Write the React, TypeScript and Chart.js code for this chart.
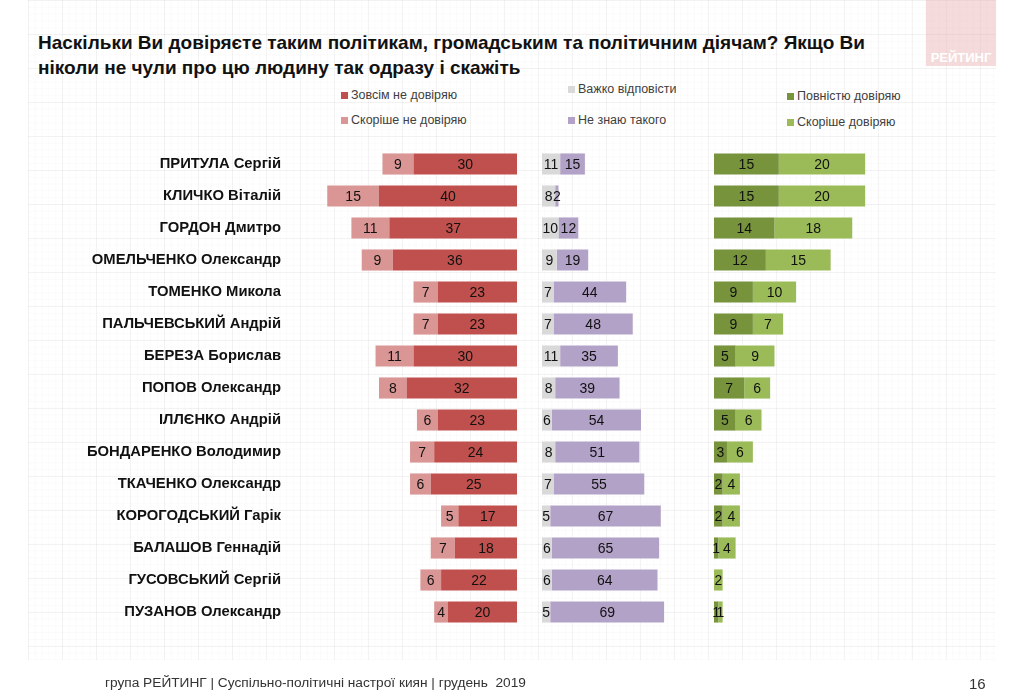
import React, { useEffect, useRef } from "react";
import { Chart, registerables } from "chart.js";

Chart.register(...registerables);

const categories = [
  "ПРИТУЛА Сергій",
  "КЛИЧКО Віталій",
  "ГОРДОН Дмитро",
  "ОМЕЛЬЧЕНКО Олександр",
  "ТОМЕНКО Микола",
  "ПАЛЬЧЕВСЬКИЙ Андрій",
  "БЕРЕЗА Борислав",
  "ПОПОВ Олександр",
  "ІЛЛЄНКО Андрій",
  "БОНДАРЕНКО Володимир",
  "ТКАЧЕНКО Олександр",
  "КОРОГОДСЬКИЙ Гарік",
  "БАЛАШОВ Геннадій",
  "ГУСОВСЬКИЙ Сергій",
  "ПУЗАНОВ Олександр",
];

const fullyDistrust = [30, 40, 37, 36, 23, 23, 30, 32, 23, 24, 25, 17, 18, 22, 20];
const ratherDistrust = [9, 15, 11, 9, 7, 7, 11, 8, 6, 7, 6, 5, 7, 6, 4];
const hardToSay = [11, 8, 10, 9, 7, 7, 11, 8, 6, 8, 7, 5, 6, 6, 5];
const dontKnow = [15, 2, 12, 19, 44, 48, 35, 39, 54, 51, 55, 67, 65, 64, 69];
const fullyTrust = [15, 15, 14, 12, 9, 9, 5, 7, 5, 3, 2, 2, 1, 0, 1];
const ratherTrust = [20, 20, 18, 15, 10, 7, 9, 6, 6, 6, 4, 4, 4, 2, 1];

const legendLabels = [
  "Зовсім не довіряю",
  "Скоріше не довіряю",
  "Важко відповісти",
  "Не знаю такого",
  "Повністю довіряю",
  "Скоріше довіряю",
];

const colors = ["#C0504D", "#D99694", "#D9D9D9", "#B3A2C7", "#77933C", "#9BBB59"];

const FONT = '"Liberation Sans", Arial, sans-serif';

const valueLabels = {
  id: "valueLabels",
  afterDatasetsDraw(chart: any) {
    const ctx = chart.ctx;
    ctx.save();
    ctx.font = `14px ${FONT}`;
    ctx.fillStyle = "#111111";
    ctx.textAlign = "center";
    ctx.textBaseline = "middle";
    chart.data.datasets.forEach((ds: any, i: number) => {
      const meta = chart.getDatasetMeta(i);
      meta.data.forEach((el: any, j: number) => {
        const v = ds.data[j] as number;
        if (!v) return;
        const p = el.getProps(["x", "base", "y"], true);
        ctx.fillText(String(v), (p.x + p.base) / 2, p.y + 1);
      });
    });
    ctx.restore();
  },
};

export default function App() {
  const canvasRef = useRef<HTMLCanvasElement | null>(null);

  useEffect(() => {
    const canvas = canvasRef.current;
    if (!canvas) return;
    Chart.defaults.font.family = FONT;
    const series = [fullyDistrust, ratherDistrust, hardToSay, dontKnow, fullyTrust, ratherTrust];
    const axisIds = ["xR", "xR", "xM", "xM", "xG", "xG"];
    const stacks = ["r", "r", "m", "m", "g", "g"];
    const chart = new Chart(canvas, {
      type: "bar",
      data: {
        labels: categories,
        datasets: series.map((d, i) => ({
          label: legendLabels[i],
          data: d,
          backgroundColor: colors[i],
          borderWidth: 0,
          xAxisID: axisIds[i],
          stack: stacks[i],
          grouped: false,
          categoryPercentage: 1,
          barPercentage: 0.66,
        })) as any,
      },
      options: {
        indexAxis: "y",
        responsive: false,
        animation: false,
        layout: { padding: { left: 0, right: 24, top: 148, bottom: 68 } },
        plugins: {
          legend: { display: false },
          tooltip: { enabled: false },
          title: { display: false },
        },
        scales: {
          y: {
            type: "category",
            position: "left",
            grid: { display: false, drawTicks: false },
            border: { display: false },
            ticks: {
              font: { size: 14.8, weight: "bold", family: FONT },
              color: "#111111",
              padding: 9,
            },
            afterFit: (s: any) => {
              s.width = 290;
            },
          },
          xR: {
            type: "linear",
            position: "bottom",
            stack: "panels",
            stackWeight: 240,
            reverse: true,
            stacked: true,
            min: -3.77,
            max: 65.8,
            display: false,
          },
          xM: {
            type: "linear",
            position: "bottom",
            stack: "panels",
            stackWeight: 170,
            stacked: true,
            min: -7.27,
            max: 95.76,
            display: false,
          },
          xG: {
            type: "linear",
            position: "bottom",
            stack: "panels",
            stackWeight: 300,
            stacked: true,
            min: -3.24,
            max: 66.2,
            display: false,
          },
        } as any,
      },
      plugins: [valueLabels],
    });
    return () => chart.destroy();
  }, []);

  const legendPos = [
    { x: 341, y: 95 },
    { x: 341, y: 120 },
    { x: 568, y: 89 },
    { x: 568, y: 120 },
    { x: 787, y: 96 },
    { x: 787, y: 122 },
  ];

  const gridBg =
    "linear-gradient(to right, rgba(0,0,0,0.035) 1px, transparent 1px)," +
    "linear-gradient(to bottom, rgba(0,0,0,0.035) 1px, transparent 1px)," +
    "linear-gradient(to right, rgba(0,0,0,0.014) 1px, transparent 1px)," +
    "linear-gradient(to bottom, rgba(0,0,0,0.014) 1px, transparent 1px)";

  return (
    <div
      style={{
        position: "absolute",
        left: 0,
        top: 0,
        width: 1024,
        height: 696,
        background: "#ffffff",
        fontFamily: FONT,
        overflow: "hidden",
      }}
    >
      <div
        style={{
          position: "absolute",
          left: 28,
          top: 0,
          width: 968,
          height: 660,
          backgroundImage: gridBg,
          backgroundSize: "34px 34px, 34px 34px, 6.8px 6.8px, 6.8px 6.8px",
        }}
      />
      <div
        style={{
          position: "absolute",
          left: 926,
          top: 0,
          width: 70,
          height: 66,
          background: "rgba(230,170,170,0.42)",
          color: "#ffffff",
          fontWeight: "bold",
          fontSize: 13,
          textAlign: "center",
          lineHeight: "16px",
          boxSizing: "border-box",
          paddingTop: 50,
        }}
      >
        РЕЙТИНГ
      </div>
      <div
        style={{
          position: "absolute",
          left: 38,
          top: 30,
          fontWeight: "bold",
          fontSize: 19,
          lineHeight: "25px",
          color: "#111111",
          whiteSpace: "nowrap",
        }}
      >
        Наскільки Ви довіряєте таким політикам, громадським та політичним діячам? Якщо Ви
        <br />
        ніколи не чули про цю людину так одразу і скажіть
      </div>
      {legendLabels.map((t, i) => (
        <div
          key={t}
          style={{
            position: "absolute",
            left: legendPos[i].x,
            top: legendPos[i].y - 8,
            height: 16,
            display: "flex",
            alignItems: "center",
            fontSize: 12.5,
            color: "#404040",
            whiteSpace: "nowrap",
          }}
        >
          <span
            style={{
              display: "inline-block",
              width: 7,
              height: 7,
              background: colors[i],
              marginRight: 3,
            }}
          />
          {t}
        </div>
      ))}
      <canvas
        ref={canvasRef}
        width={1024}
        height={696}
        style={{ position: "absolute", left: 0, top: 0, width: 1024, height: 696 }}
      />
      <div
        style={{
          position: "absolute",
          left: 105,
          top: 675,
          fontSize: 13.7,
          color: "#333333",
          whiteSpace: "pre",
        }}
      >
        група РЕЙТИНГ | Суспільно-політичні настрої киян | грудень  2019
      </div>
      <div
        style={{
          position: "absolute",
          left: 969,
          top: 675,
          fontSize: 15,
          color: "#333333",
        }}
      >
        16
      </div>
    </div>
  );
}
